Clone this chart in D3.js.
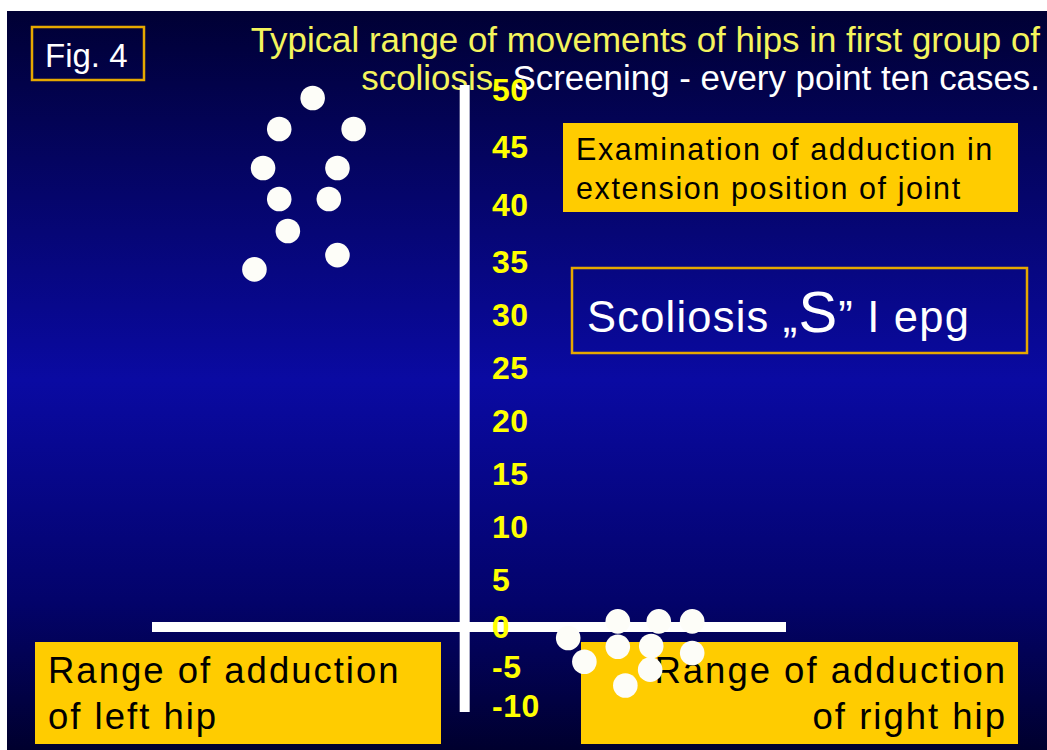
<!DOCTYPE html>
<html>
<head>
<meta charset="utf-8">
<script src="https://cdn.jsdelivr.net/npm/d3@7"></script>
<style>
  body { margin: 0; background: #fff; }
  text { font-family: "Liberation Sans", Arial, sans-serif; }
</style>
</head>
<body>
<div id="chart"></div>
<script>
// left hip cluster (upper left)
const leftX = [-14.1, -17.2, -10.3, -18.7, -11.8, -17.2, -12.6, -16.4, -11.8, -19.5]
const leftY = [49.3, 46.6, 46.6, 43.2, 43.2, 40.5, 40.5, 37.7, 35.6, 34.3]
// right hip cluster (around zero)
const rightX = [14.2, 18.0, 21.1, 9.6, 14.2, 17.3, 11.1, 21.1, 17.2, 14.9]
const rightY = [0.6, 0.6, 0.6, -1.4, -2.5, -2.4, -4.4, -3.3, -5.4, -7.4]
const yTicks = [50, 45, 40, 35, 30, 25, 20, 15, 10, 5, 0, -5, -10]

const W = 1047, H = 750
const gold = "#ffcc00"

let svg = d3.select("#chart").append("svg")
  .attr("width", W)
  .attr("height", H)

let grad = svg.append("defs").append("linearGradient")
  .attr("id", "bg")
  .attr("x1", 0).attr("y1", 0).attr("x2", 0).attr("y2", 1)
grad.append("stop").attr("offset", "0%").attr("stop-color", "#000034")
grad.append("stop").attr("offset", "50%").attr("stop-color", "#0a0aa2")
grad.append("stop").attr("offset", "80%").attr("stop-color", "#03036a")
grad.append("stop").attr("offset", "100%").attr("stop-color", "#00002e")

svg.append("rect")
  .attr("x", 7).attr("y", 11)
  .attr("width", W - 7).attr("height", H - 11)
  .attr("fill", "url(#bg)")

// hand-drawn slide axis: label spacing is not even, so piecewise scale
let x = d3.scaleLinear().domain([-29, 29.8]).range([152, 786])
let y = d3.scaleLinear().domain([-10, 0, 5, 35, 50]).range([706, 627, 580, 262, 90])

// annotation boxes (behind dots)
svg.append("rect")
  .attr("x", 563).attr("y", 123).attr("width", 455).attr("height", 89)
  .attr("fill", gold)
let ex = svg.append("text")
  .attr("x", 576).attr("font-size", 30.5).attr("letter-spacing", 1.6).attr("fill", "#000")
ex.append("tspan").attr("x", 576).attr("y", 160).text("Examination of adduction in")
ex.append("tspan").attr("x", 576).attr("y", 199).text("extension position of joint")

svg.append("rect")
  .attr("x", 572).attr("y", 268).attr("width", 455).attr("height", 85)
  .attr("fill", "none").attr("stroke", "#e6a800").attr("stroke-width", 2.5)
let sc = svg.append("text")
  .attr("x", 587).attr("y", 332)
  .attr("font-size", 43.5).attr("letter-spacing", 1.2).attr("fill", "#fff")
sc.append("tspan").text("Scoliosis \u201e")
sc.append("tspan").attr("font-size", 58).text("S")
sc.append("tspan").text("\u201d I epg")

svg.append("rect")
  .attr("x", 35).attr("y", 642).attr("width", 406).attr("height", 102)
  .attr("fill", gold)
let lt = svg.append("text")
  .attr("font-size", 36.5).attr("letter-spacing", 2).attr("fill", "#000")
lt.append("tspan").attr("x", 48).attr("y", 683).text("Range of adduction")
lt.append("tspan").attr("x", 48).attr("y", 729).text("of left hip")

svg.append("rect")
  .attr("x", 581).attr("y", 642).attr("width", 437).attr("height", 102)
  .attr("fill", gold)
let rt = svg.append("text")
  .attr("font-size", 36.5).attr("letter-spacing", 2).attr("fill", "#000")
  .attr("text-anchor", "end")
rt.append("tspan").attr("x", 1007).attr("y", 683).text("Range of adduction")
rt.append("tspan").attr("x", 1007).attr("y", 729).text("of right hip")

// Fig. 4 label
svg.append("rect")
  .attr("x", 32).attr("y", 27).attr("width", 112).attr("height", 53)
  .attr("fill", "none").attr("stroke", "#e6a800").attr("stroke-width", 2.5)
svg.append("text")
  .attr("x", 45).attr("y", 67)
  .attr("font-size", 33).attr("fill", "#fff")
  .text("Fig. 4")

// title
let title = svg.append("text")
  .attr("text-anchor", "end").attr("font-size", 34.9)
title.append("tspan").attr("x", 1040).attr("y", 52)
  .attr("fill", "#f4f45c").text("Typical range of movements of hips in first group of")
let t2 = title.append("tspan").attr("x", 1040).attr("y", 90)
t2.append("tspan").attr("fill", "#f4f45c").text("scoliosis. ")
t2.append("tspan").attr("fill", "#fff").text("Screening - every point ten cases.")

// axes
svg.append("line")
  .attr("x1", x(-29)).attr("x2", x(29.8))
  .attr("y1", y(0)).attr("y2", y(0))
  .attr("stroke", "#fff").attr("stroke-width", 10)
svg.append("line")
  .attr("x1", x(0)).attr("x2", x(0))
  .attr("y1", y(50) - 5).attr("y2", y(-10) + 6)
  .attr("stroke", "#fff").attr("stroke-width", 10)

svg.selectAll("text.tick")
  .data(yTicks)
  .enter()
  .append("text")
  .attr("class", "tick")
  .attr("x", 492)
  .attr("y", d => y(d))
  .attr("dominant-baseline", "central")
  .attr("font-size", 32)
  .attr("font-weight", "bold")
  .attr("letter-spacing", 0.5)
  .attr("fill", "#ffff00")
  .text(d => d)

// points
let pts = leftX.map((v, i) => ({x: v, y: leftY[i]}))
  .concat(rightX.map((v, i) => ({x: v, y: rightY[i]})))

svg.selectAll("circle")
  .data(pts)
  .enter()
  .append("circle")
  .attr("cx", d => x(d.x))
  .attr("cy", d => y(d.y))
  .attr("r", 12.3)
  .attr("fill", "#fdfdf8")
</script>
</body>
</html>
